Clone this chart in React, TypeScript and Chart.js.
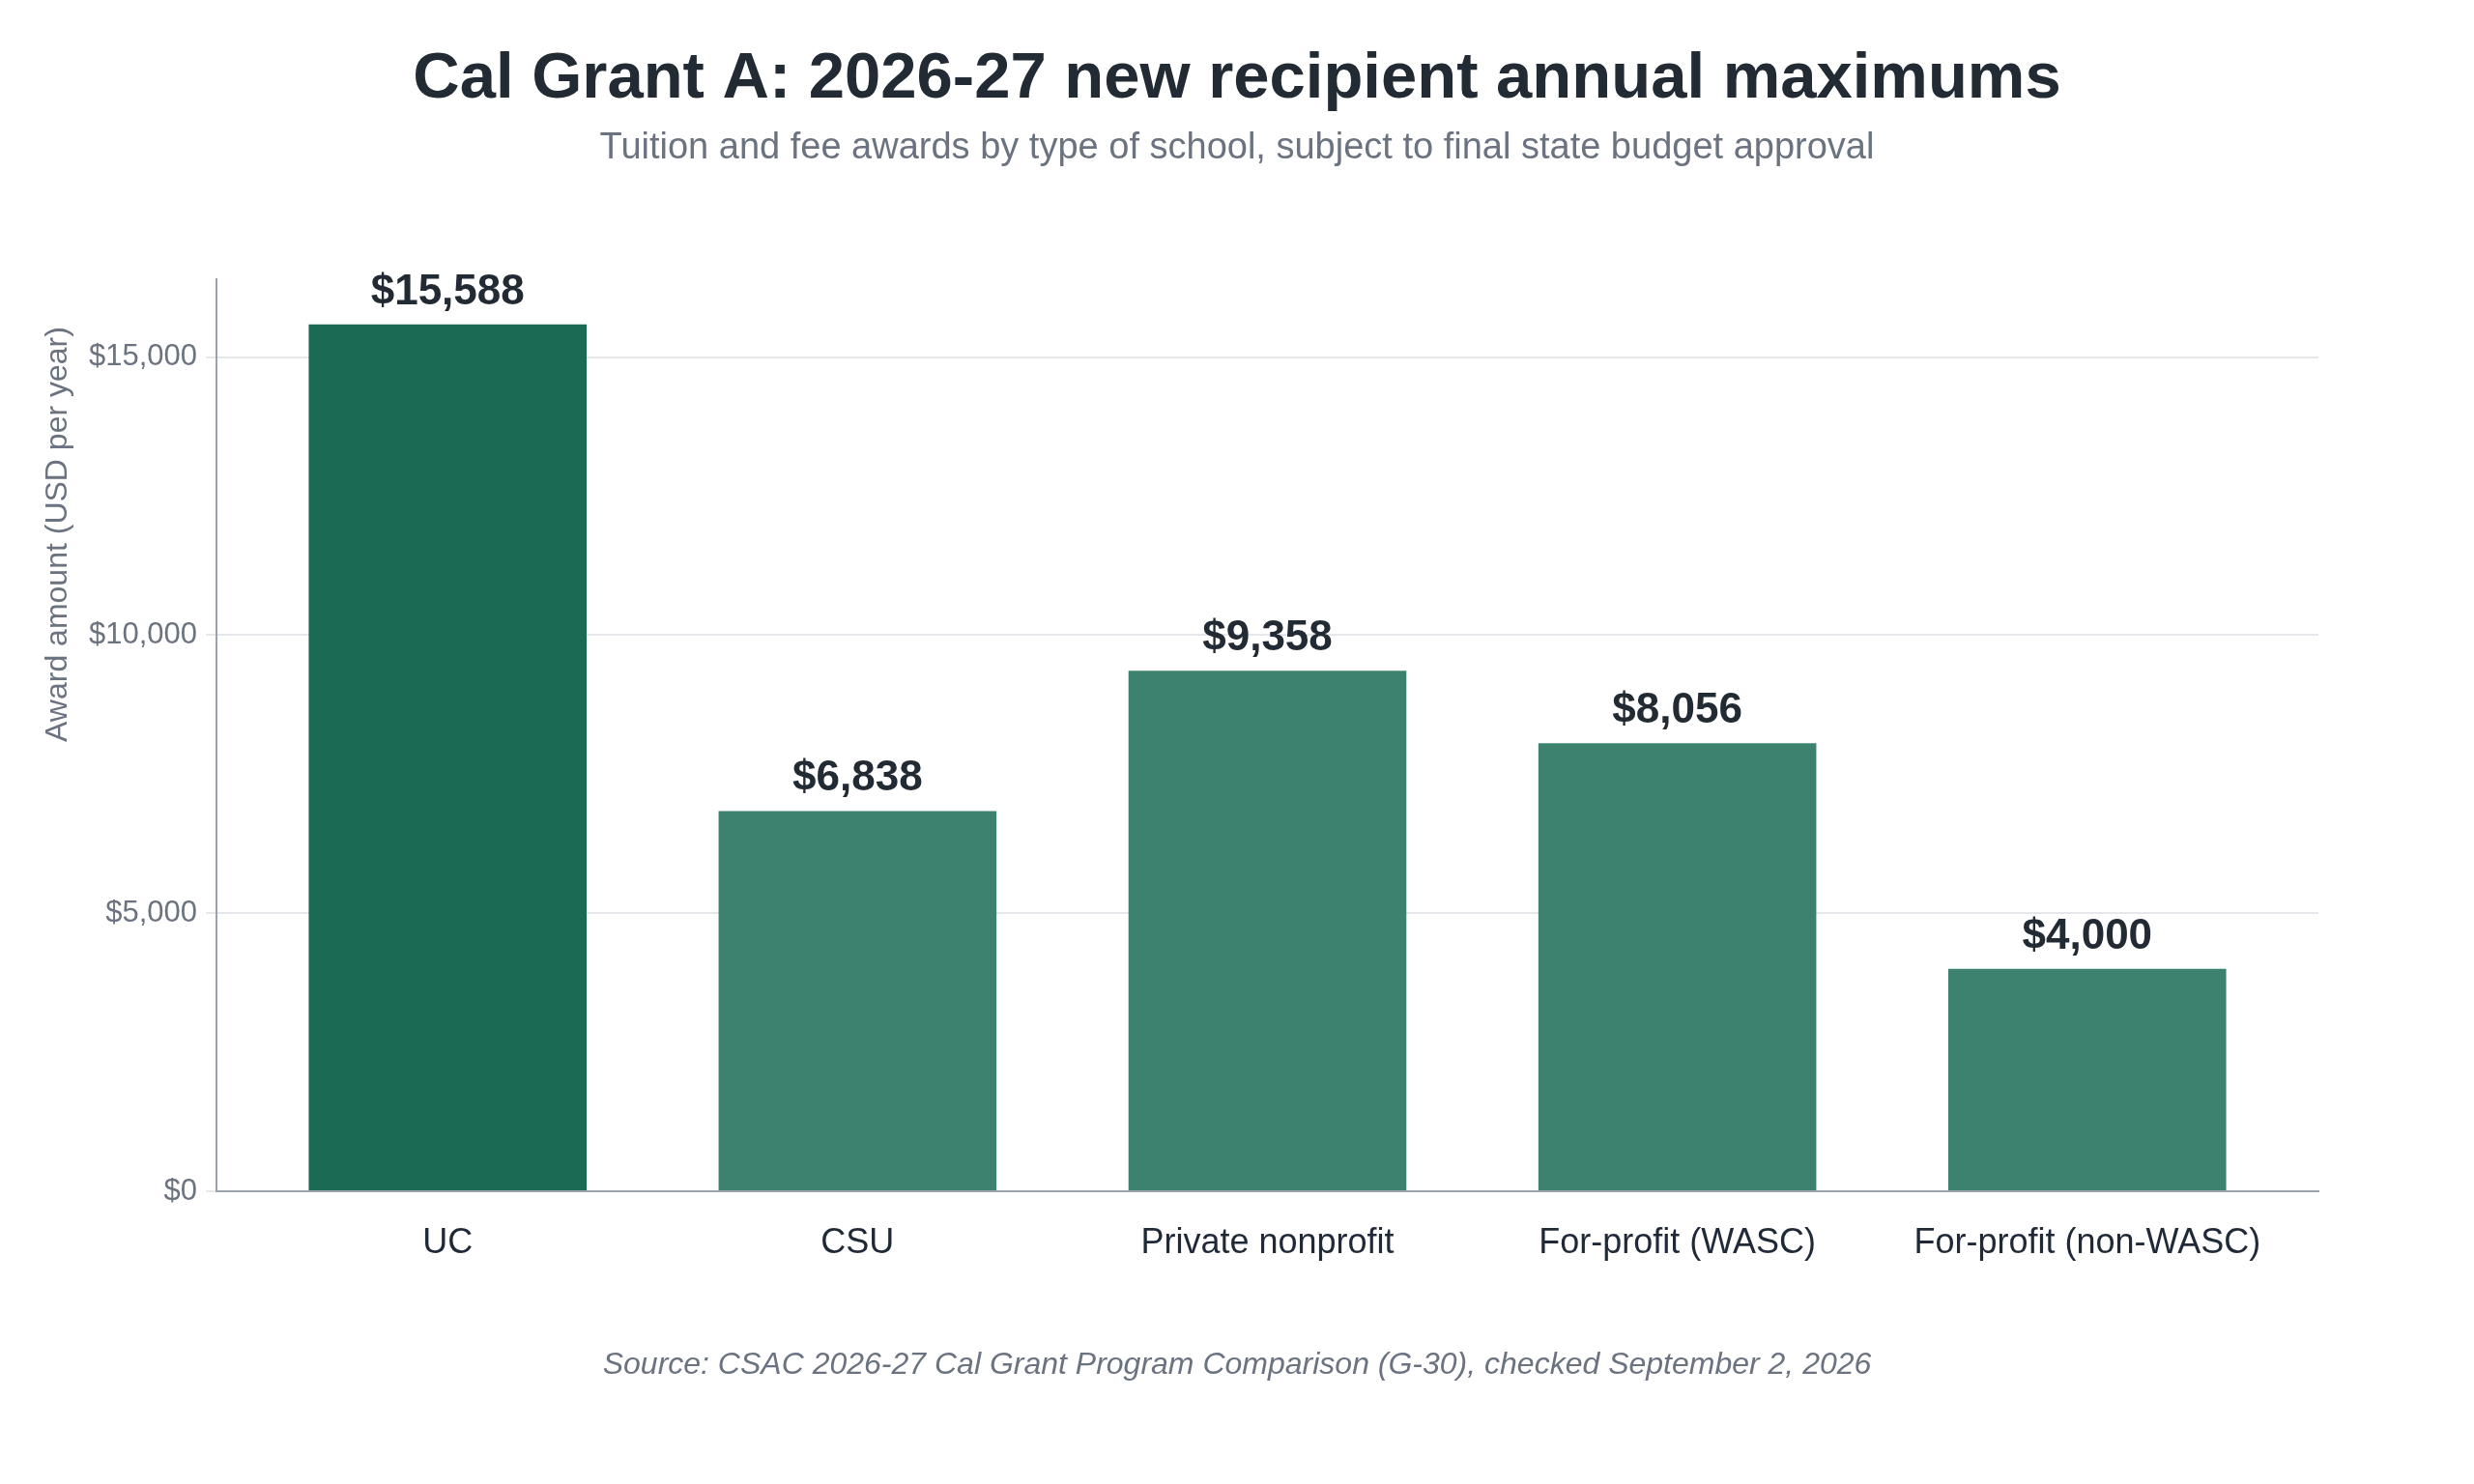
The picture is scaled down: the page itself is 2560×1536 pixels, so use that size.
import { useEffect, useRef } from "react"
import { Chart, registerables } from "chart.js"

Chart.register(...registerables)

const schoolTypes = ["UC", "CSU", "Private nonprofit", "For-profit (WASC)", "For-profit (non-WASC)"]
const awardAmounts = [15588, 6838, 9358, 8056, 4000]
const yTickValues = [0, 5000, 10000, 15000]
const barColors = ["#1b6b54", "#3d826e", "#3d826e", "#3d826e", "#3d826e"]

const FONT = "'Liberation Sans', Arial, Helvetica, sans-serif"
const TITLE = "Cal Grant A: 2026-27 new recipient annual maximums"
const SUBTITLE = "Tuition and fee awards by type of school, subject to final state budget approval"
const SOURCE = "Source: CSAC 2026-27 Cal Grant Program Comparison (G-30), checked September 2, 2026"
const Y_TITLE = "Award amount (USD per year)"

const money = (v: number) => "$" + v.toLocaleString("en-US")

const valueLabels = {
  id: "valueLabels",
  afterDatasetsDraw(chart: any) {
    const ctx = chart.ctx
    const meta = chart.getDatasetMeta(0)
    ctx.save()
    ctx.font = `bold 44px ${FONT}`
    ctx.fillStyle = "#222a33"
    ctx.textAlign = "center"
    ctx.textBaseline = "alphabetic"
    meta.data.forEach((bar: any, i: number) => {
      ctx.fillText(money(awardAmounts[i]), bar.x, bar.y - 21)
    })
    ctx.restore()
  },
}

// title, subtitle, source and the y axis title sit at fixed spots on the canvas
const headerFooter = {
  id: "headerFooter",
  afterDraw(chart: any) {
    const ctx = chart.ctx
    const cx = chart.width / 2
    ctx.save()
    ctx.textAlign = "center"
    ctx.textBaseline = "middle"
    ctx.fillStyle = "#222a33"
    ctx.font = `bold 67px ${FONT}`
    ctx.fillText(TITLE, cx, 83)
    ctx.fillStyle = "#6b7280"
    ctx.font = `38px ${FONT}`
    ctx.fillText(SUBTITLE, cx, 154)
    ctx.font = `italic 32px ${FONT}`
    ctx.fillText(SOURCE, cx, 1413)

    ctx.translate(60, 553)
    ctx.rotate(-Math.PI / 2)
    ctx.font = `32px ${FONT}`
    ctx.fillText(Y_TITLE, 0, 0)
    ctx.restore()
  },
}

export default function App() {
  const chartRef = useRef<HTMLCanvasElement>(null)
  const chartInstance = useRef<Chart | null>(null)

  useEffect(() => {
    if (!chartRef.current) return
    if (chartInstance.current) {
      chartInstance.current.destroy()
    }
    const ctx = chartRef.current.getContext("2d")
    if (!ctx) return

    chartInstance.current = new Chart(ctx, {
      type: "bar",
      data: {
        datasets: [
          {
            label: "Award amount",
            data: awardAmounts.map((v, i) => ({ x: i, y: v })),
            backgroundColor: barColors,
            borderWidth: 0,
            barPercentage: 0.678,
            categoryPercentage: 1,
          },
        ],
      },
      options: {
        responsive: true,
        maintainAspectRatio: false,
        animation: false,
        layout: {
          padding: { top: 289, left: 40, right: 161, bottom: 228 },
        },
        plugins: {
          legend: { display: false },
          tooltip: { enabled: false },
        },
        scales: {
          x: {
            type: "linear",
            offset: false,
            min: -0.564,
            max: 4.564,
            afterBuildTicks: (scale: any) => {
              scale.ticks = schoolTypes.map((_, i) => ({ value: i }))
            },
            afterFit: (scale: any) => {
              scale.height = 75
            },
            grid: { display: false, drawTicks: false, offset: false },
            border: { display: true, color: "#9ca3af", width: 2 },
            ticks: {
              color: "#1f2937",
              font: { family: FONT, size: 36 },
              padding: 32,
              maxRotation: 0,
              autoSkip: false,
              callback: (v: any) => schoolTypes[Number(v)] ?? "",
            },
          },
          y: {
            min: 0,
            max: 16400,
            afterBuildTicks: (scale: any) => {
              scale.ticks = yTickValues.map((v) => ({ value: v }))
            },
            afterFit: (scale: any) => {
              scale.width = 184
            },
            grid: { color: "#e5e7eb", lineWidth: 2, tickLength: 11 },
            border: { display: true, color: "#9ca3af", width: 2 },
            ticks: {
              color: "#6b7280",
              font: { family: FONT, size: 31 },
              padding: 9,
              callback: (v: any) => money(Number(v)),
            },
            title: { display: false },
          },
        },
      },
      plugins: [valueLabels, headerFooter],
    })

    return () => {
      if (chartInstance.current) {
        chartInstance.current.destroy()
        chartInstance.current = null
      }
    }
  }, [])

  return (
    <div style={{ position: "fixed", left: 0, top: 0, width: "100vw", height: "100vh", background: "#ffffff" }}>
      <canvas ref={chartRef} />
    </div>
  )
}
